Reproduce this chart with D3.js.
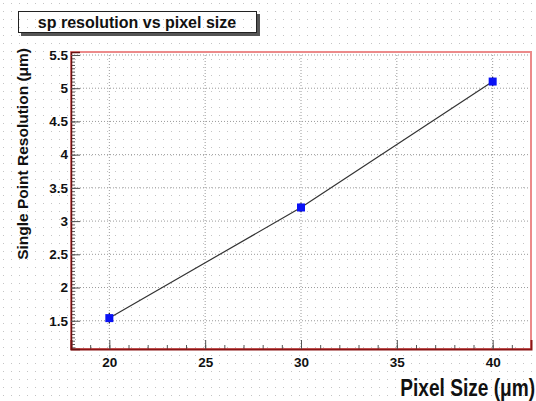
<!DOCTYPE html>
<html>
<head>
<meta charset="utf-8">
<script src="https://cdn.jsdelivr.net/npm/d3@7"></script>
<style>
  body { margin: 0; background: #fff; }
  text { font-family: "Liberation Sans", Arial, Helvetica, sans-serif; font-weight: bold; }
</style>
</head>
<body>
<div id="my_dataviz"></div>
<script>
// data
var pixelSize = [20, 30, 40];
var resolution = [1.54, 3.205, 5.10];
var resError = [0.08, 0.07, 0.07];

var xMajorTicks = [20, 25, 30, 35, 40];
var yMajorTicks = [1.5, 2, 2.5, 3, 3.5, 4, 4.5, 5, 5.5];

var titleText = "sp resolution vs pixel size";
var xTitle = "Pixel Size (\u03bcm)";
var yTitle = "Single Point Resolution (\u03bcm)";

var W = 536, H = 401;
var margin = {top: 52, right: 5, bottom: 52, left: 71},
width = W - margin.left - margin.right,
height = H - margin.top - margin.bottom;

var root = d3.select("#my_dataviz")
.append("svg")
.attr("width", W)
.attr("height", H);

// dotted canvas background (ROOT style)
var defs = root.append("defs");
var pat = defs.append("pattern")
.attr("id", "dots")
.attr("width", 8)
.attr("height", 8)
.attr("patternUnits", "userSpaceOnUse");
pat.append("rect").attr("width", 8).attr("height", 8).attr("fill", "#fff");
pat.append("rect").attr("x", 3).attr("y", 3).attr("width", 1).attr("height", 1).attr("fill", "#c4c4c4");

root.append("rect").attr("width", W).attr("height", H).attr("fill", "url(#dots)");

var svg = root.append("g")
.attr("transform", "translate(" + margin.left + "," + margin.top + ")");

var x = d3.scaleLinear()
.domain([18, 42])
.range([0, width]);

var y = d3.scaleLinear()
.domain([1.075, 5.545])
.range([height, 0]);

// grid
svg.append("g")
.selectAll("line.gx")
.data(xMajorTicks)
.enter().append("line")
.attr("x1", function(d) { return x(d); })
.attr("x2", function(d) { return x(d); })
.attr("y1", 0).attr("y2", height)
.attr("stroke", "#9a9a9a")
.attr("stroke-dasharray", "1,2");

svg.append("g")
.selectAll("line.gy")
.data(yMajorTicks)
.enter().append("line")
.attr("y1", function(d) { return y(d); })
.attr("y2", function(d) { return y(d); })
.attr("x1", 0).attr("x2", width)
.attr("stroke", "#9a9a9a")
.attr("stroke-dasharray", "1,2");

// frame
svg.append("rect")
.attr("x", 0).attr("y", 0)
.attr("width", width).attr("height", height)
.attr("fill", "none")
.attr("stroke", "#ec8a8a")
.attr("stroke-width", 2);

// x axis: minor + major ticks pointing inside
var xMinor = d3.range(18, 42.01, 1);
svg.append("g")
.attr("transform", "translate(0," + height + ")")
.call(d3.axisBottom(x).tickValues(xMinor).tickSize(-4).tickFormat(""))
.call(function(g) { g.select(".domain").remove(); })
.selectAll("line").attr("stroke", "#555");

var xAxis = svg.append("g")
.attr("transform", "translate(0," + height + ")")
.call(d3.axisBottom(x).tickValues(xMajorTicks).tickSize(-9).tickPadding(8).tickFormat(d3.format("d")));
xAxis.select(".domain").attr("stroke", "#8b1414").attr("stroke-width", 2);
xAxis.selectAll("line").attr("stroke", "#555");
xAxis.selectAll("text").attr("fill", "#111").style("font-size", "13.5px");

// y axis
var yMinor = d3.range(1.1, 5.52, 0.05);
svg.append("g")
.call(d3.axisLeft(y).tickValues(yMinor).tickSize(-4).tickFormat(""))
.call(function(g) { g.select(".domain").remove(); })
.selectAll("line").attr("stroke", "#555");

var yAxis = svg.append("g")
.call(d3.axisLeft(y).tickValues(yMajorTicks).tickSize(-9).tickPadding(3).tickFormat(d3.format("")));
yAxis.select(".domain").attr("stroke", "#6a1010").attr("stroke-width", 1.5);
yAxis.selectAll("line").attr("stroke", "#555");
yAxis.selectAll("text").attr("fill", "#111").style("font-size", "13.5px");

// graph line
var line = d3.line()
.x(function(d) { return x(d[0]); })
.y(function(d) { return y(d[1]); });

svg.append("path")
.datum(d3.zip(pixelSize, resolution))
.attr("fill", "none")
.attr("stroke", "#333")
.attr("stroke-width", 1.2)
.attr("d", line);

// error bars
svg.selectAll("line.err")
.data(d3.zip(pixelSize, resolution, resError))
.enter().append("line")
.attr("x1", function(d) { return x(d[0]); })
.attr("x2", function(d) { return x(d[0]); })
.attr("y1", function(d) { return y(d[1] - d[2]); })
.attr("y2", function(d) { return y(d[1] + d[2]); })
.attr("stroke", "#222")
.attr("stroke-width", 1.2);

// markers
svg.selectAll("rect.pt")
.data(d3.zip(pixelSize, resolution))
.enter().append("rect")
.attr("x", function(d) { return x(d[0]) - 4; })
.attr("y", function(d) { return y(d[1]) - 4; })
.attr("width", 8)
.attr("height", 8)
.attr("fill", "#0a12f5");

// axis titles (x title is a condensed face in the original)
root.append("text")
.attr("transform", "translate(535,396) scale(0.83,1)")
.attr("text-anchor", "end")
.style("font-size", "23px")
.attr("fill", "#111")
.text(xTitle);

root.append("text")
.attr("transform", "translate(27.5,48) rotate(-90)")
.attr("text-anchor", "end")
.style("font-size", "15.5px")
.attr("fill", "#111")
.text(yTitle);

// title box with shadow
root.append("rect")
.attr("x", 21).attr("y", 14)
.attr("width", 239).attr("height", 22)
.attr("fill", "#555");
root.append("rect")
.attr("x", 18.5).attr("y", 11.5)
.attr("width", 238).attr("height", 21)
.attr("fill", "url(#dots)")
.attr("stroke", "#222");
root.append("text")
.attr("x", 137)
.attr("y", 28)
.attr("text-anchor", "middle")
.style("font-size", "16px")
.attr("fill", "#111")
.text(titleText);
</script>
</body>
</html>
